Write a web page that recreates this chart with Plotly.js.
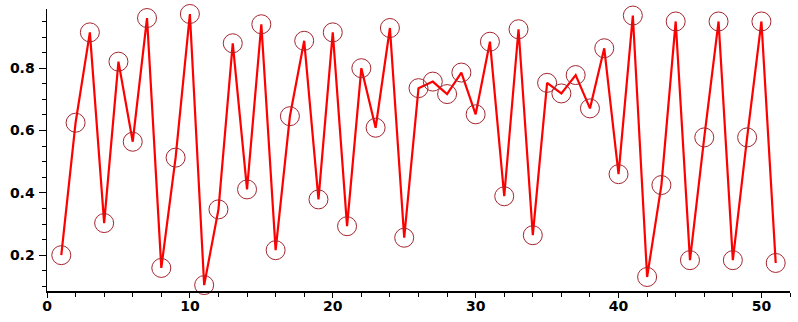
<!DOCTYPE html>
<html><head><meta charset="utf-8">
<script src="https://cdn.plot.ly/plotly-3.0.1.min.js"></script>
<style>html,body{margin:0;padding:0;background:#fff}#c{width:798px;height:322px}</style>
</head><body><div id="c"></div>
<script>
const xs = [1,2,3,4,5,6,7,8,9,10,11,12,13,14,15,16,17,18,19,20,21,22,23,24,25,26,27,28,29,30,31,32,33,34,35,36,37,38,39,40,41,42,43,44,45,46,47,48,49,50,51];
const ys = [0.200,0.625,0.915,0.303,0.821,0.564,0.961,0.159,0.513,0.974,0.104,0.347,0.880,0.411,0.941,
            0.216,0.646,0.888,0.379,0.915,0.293,0.800,0.609,0.929,0.256,0.736,0.757,0.717,0.786,0.652,
            0.885,0.389,0.925,0.264,0.753,0.719,0.778,0.671,0.864,0.460,0.969,0.130,0.425,0.950,0.184,
            0.578,0.950,0.184,0.578,0.950,0.175];
const xTicks = [0,10,20,30,40,50];
const yTicks = [0.2,0.4,0.6,0.8];
const yTickText = ["0.2","0.4","0.6","0.8"];

const data = [
  {x: xs, y: ys, type:'scatter', mode:'lines', line:{color:'#ff0000', width:2.2}, hoverinfo:'skip'},
  {x: xs, y: ys, type:'scatter', mode:'markers', cliponaxis:false,
   marker:{symbol:'circle-open', size:19, color:'#a4262f', line:{width:1, color:'#a4262f'}}}
];
const tf = {family:'DejaVu Sans, Arial, sans-serif', size:14, color:'#000', weight:'bold'};
const layout = {
  width:798, height:322, showlegend:false,
  margin:{l:47, r:8, t:9, b:31},
  paper_bgcolor:'#fff', plot_bgcolor:'#fff',
  xaxis:{range:[0,52], showgrid:false, zeroline:false, showline:true, linecolor:'#000', linewidth:1.5,
         tickmode:'array', tickvals:xTicks, ticktext:xTicks.map(String), ticks:'outside', ticklen:5, tickwidth:1, tickcolor:'#000',
         tickfont:tf, ticklabelstandoff:-3, minor:{dtick:2, tick0:0, ticks:'outside', ticklen:4, tickcolor:'#000', showgrid:false}},
  yaxis:{range:[0.085,0.99], showgrid:false, zeroline:false, showline:true, linecolor:'#000', linewidth:1.5,
         tickmode:'array', tickvals:yTicks, ticktext:yTickText, ticks:'outside', ticklen:7, tickwidth:1, tickcolor:'#000',
         tickfont:tf, ticklabelstandoff:1, minor:{dtick:0.05, tick0:0, ticks:'outside', ticklen:4, tickcolor:'#000', showgrid:false}}
};
Plotly.newPlot('c', data, layout, {staticPlot:true});
</script></body></html>
